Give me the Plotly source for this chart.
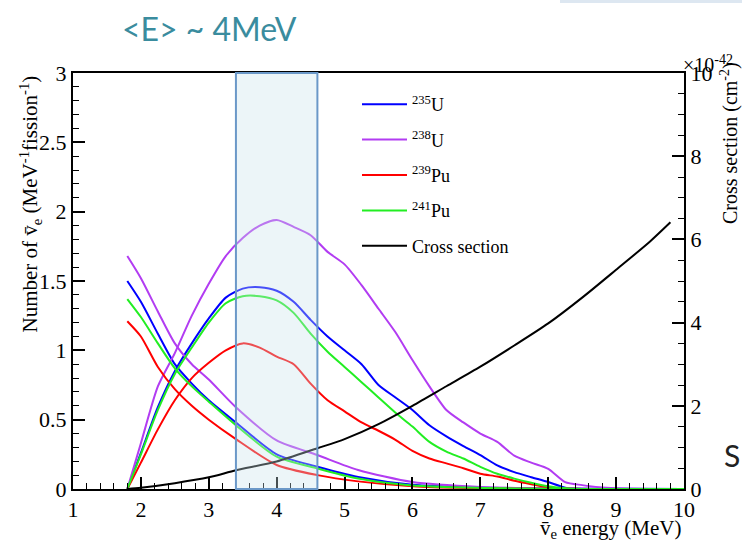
import plotly.graph_objects as go

# ---------------- data ----------------
E_FLUX = [1.8, 2.0, 2.25, 2.5, 2.75, 3.0, 3.4, 4.0, 4.6, 5.2, 6.0, 7.0, 8.0, 9.0, 10.0]
FLUX_U235 = [1.50, 1.35, 1.12, 0.90, 0.76, 0.64, 0.48, 0.25, 0.16, 0.086, 0.03, 0.01, 0.003, 0.001, 0.0]
FLUX_U238 = [1.68, 1.52, 1.28, 1.05, 0.90, 0.79, 0.59, 0.35, 0.245, 0.137, 0.05, 0.015, 0.005, 0.002, 0.0]
FLUX_PU239 = [1.21, 1.10, 0.88, 0.72, 0.60, 0.50, 0.36, 0.173, 0.10, 0.055, 0.02, 0.005, 0.001, 0.0, 0.0]
FLUX_PU241 = [1.37, 1.24, 1.05, 0.87, 0.74, 0.63, 0.46, 0.233, 0.148, 0.075, 0.025, 0.008, 0.002, 0.0, 0.0]

E_DET = [1.8, 2.0, 2.25, 2.5, 2.75, 3.0, 3.25, 3.5, 3.75, 4.0, 4.25, 4.5, 4.75, 5.0, 5.25,
         5.5, 5.75, 6.0, 6.25, 6.5, 6.75, 7.0, 7.25, 7.5, 7.75, 8.0, 8.25, 8.5, 8.75, 9.0, 9.5, 10.0]
DET_U235 = [0, 0.26, 0.59, 0.85, 1.05, 1.23, 1.38, 1.445, 1.455, 1.43, 1.35, 1.22, 1.10, 1.00, 0.90,
            0.75, 0.66, 0.57, 0.46, 0.38, 0.31, 0.245, 0.17, 0.122, 0.085, 0.05, 0.01, 0, 0, 0, 0, 0]
DET_U238 = [0, 0.33, 0.74, 0.98, 1.25, 1.48, 1.68, 1.81, 1.90, 1.94, 1.89, 1.83, 1.71, 1.62, 1.47,
            1.30, 1.13, 0.93, 0.74, 0.57, 0.48, 0.40, 0.34, 0.24, 0.19, 0.145, 0.05, 0.028, 0.012, 0.005, 0, 0]
DET_PU239 = [0, 0.19, 0.43, 0.64, 0.80, 0.91, 1.00, 1.05, 1.02, 0.955, 0.90, 0.76, 0.64, 0.56, 0.48,
             0.42, 0.355, 0.275, 0.22, 0.185, 0.15, 0.11, 0.09, 0.06, 0.035, 0.012, 0.003, 0, 0, 0, 0, 0]
DET_PU241 = [0, 0.25, 0.57, 0.83, 1.02, 1.20, 1.34, 1.39, 1.39, 1.36, 1.27, 1.12, 0.99, 0.88, 0.77,
             0.66, 0.55, 0.45, 0.34, 0.27, 0.22, 0.16, 0.11, 0.075, 0.045, 0.02, 0.005, 0, 0, 0, 0, 0]

E_XS = [1.8, 2.0, 2.5, 3.0, 3.4, 4.0, 4.6, 5.0, 5.5, 6.0, 6.5, 7.0, 7.5, 8.0, 8.5, 9.0, 9.5, 9.8]
XS = [0, 0.03, 0.14, 0.28, 0.45, 0.66, 0.98, 1.20, 1.56, 2.0, 2.47, 2.94, 3.45, 3.98, 4.6, 5.27, 5.95, 6.41]

ISOTOPES = ["<sup>235</sup>U", "<sup>238</sup>U", "<sup>239</sup>Pu", "<sup>241</sup>Pu"]
COLORS = ["#0000ff", "#b23cf2", "#ff0000", "#22ee22"]
FLUXES = [FLUX_U235, FLUX_U238, FLUX_PU239, FLUX_PU241]
DETS = [DET_U235, DET_U238, DET_PU239, DET_PU241]

BAND = [3.4, 4.6]

SERIF = "Liberation Serif"
NUBAR = "v\u0304"

fig = go.Figure()
for name, col, fl, de in zip(ISOTOPES, COLORS, FLUXES, DETS):
    xs = list(E_DET) + [None] + list(E_FLUX)
    ys = list(de) + [None] + list(fl)
    fig.add_trace(go.Scatter(x=xs, y=ys, mode="lines", name=name, legendgroup=name,
                             line=dict(color=col, width=2, shape="spline", smoothing=0.7),
                             connectgaps=False))
fig.add_trace(go.Scatter(x=E_XS, y=XS, mode="lines", name="Cross section", legendgroup="xs",
                         line=dict(color="black", width=2, shape="spline", smoothing=0.7),
                         yaxis="y2"))

fig.add_shape(type="rect", xref="x", yref="paper", x0=BAND[0], x1=BAND[1], y0=0, y1=1,
              fillcolor="rgba(200,225,235,0.35)", line=dict(color="#6b98c8", width=2), layer="above")

# slide decoration at top right
fig.add_shape(type="rect", xref="paper", yref="paper", x0=(560 - 73) / 611, x1=(742 - 73) / 611,
              y0=(489 - 3) / 416, y1=(489 + 1) / 416, fillcolor="#dde7f1", line=dict(width=0), layer="below")

axis_common = dict(showgrid=False, zeroline=False, showline=True, linecolor="black", linewidth=2,
                   ticks="inside", tickcolor="black", tickwidth=1.5, ticklen=12,
                   tickfont=dict(family=SERIF, size=22, color="black"))

fig.update_layout(
    width=742, height=547,
    margin=dict(l=73, r=58, t=73, b=58),
    paper_bgcolor="white", plot_bgcolor="white",
    font=dict(family=SERIF, color="black"),
    xaxis=dict(range=[1, 10], dtick=1, mirror=True,
               minor=dict(dtick=0.2, ticks="inside", ticklen=6, tickcolor="black", tickwidth=1),
               **axis_common),
    yaxis=dict(range=[0, 3], dtick=0.5,
               minor=dict(dtick=0.1, ticks="inside", ticklen=6, tickcolor="black", tickwidth=1),
               **axis_common),
    yaxis2=dict(range=[0, 10], dtick=2, overlaying="y", side="right",
                minor=dict(dtick=0.5, ticks="inside", ticklen=6, tickcolor="black", tickwidth=1),
                **axis_common),
    showlegend=True,
    legend=dict(x=(357 - 73) / 611, y=(489 - 86) / 416, xanchor="left", yanchor="top",
                bgcolor="rgba(0,0,0,0)", font=dict(family=SERIF, size=18, color="black"),
                tracegroupgap=9, traceorder="grouped", itemwidth=45),
)

annotations = [
    dict(text="&lt;E&gt; ~ 4MeV", x=(209 - 73) / 611, y=(489 - 28) / 416, xref="paper", yref="paper",
         xanchor="center", yanchor="middle", showarrow=False,
         font=dict(family="Lato", size=32, color="#3a8c9e")),
    dict(text=NUBAR + "<sub>e</sub> energy (MeV)", x=(683 - 73) / 611, y=(489 - 529) / 416, xref="paper",
         yref="paper", xanchor="right", yanchor="middle", showarrow=False,
         font=dict(family=SERIF, size=21, color="black")),
    dict(text="Number of " + NUBAR + "<sub>e</sub> (MeV<sup>-1</sup>fission<sup>-1</sup>)", textangle=-90,
         x=(30 - 73) / 611, y=(489 - 74) / 416, xref="paper", yref="paper",
         xanchor="center", yanchor="top", showarrow=False,
         font=dict(family=SERIF, size=21, color="black")),
    dict(text="Cross section (cm<sup>-2</sup>)", textangle=-90,
         x=(729 - 73) / 611, y=(489 - 60) / 416, xref="paper", yref="paper",
         xanchor="center", yanchor="top", showarrow=False,
         font=dict(family=SERIF, size=20, color="black")),
    dict(text="×10<sup>-42</sup>", x=(681 - 73) / 611, y=(489 - 64) / 416, xref="paper", yref="paper",
         xanchor="left", yanchor="middle", showarrow=False,
         font=dict(family=SERIF, size=20, color="black")),
    dict(text="S", x=(722 - 73) / 611, y=(489 - 455) / 416, xref="paper", yref="paper",
         xanchor="left", yanchor="middle", showarrow=False,
         font=dict(family="Lato", size=30, color="#222222")),
]
fig.update_layout(annotations=annotations)

fig.write_html("out.html", config={"displayModeBar": False},
               post_script="document.body.style.margin='0px';")
